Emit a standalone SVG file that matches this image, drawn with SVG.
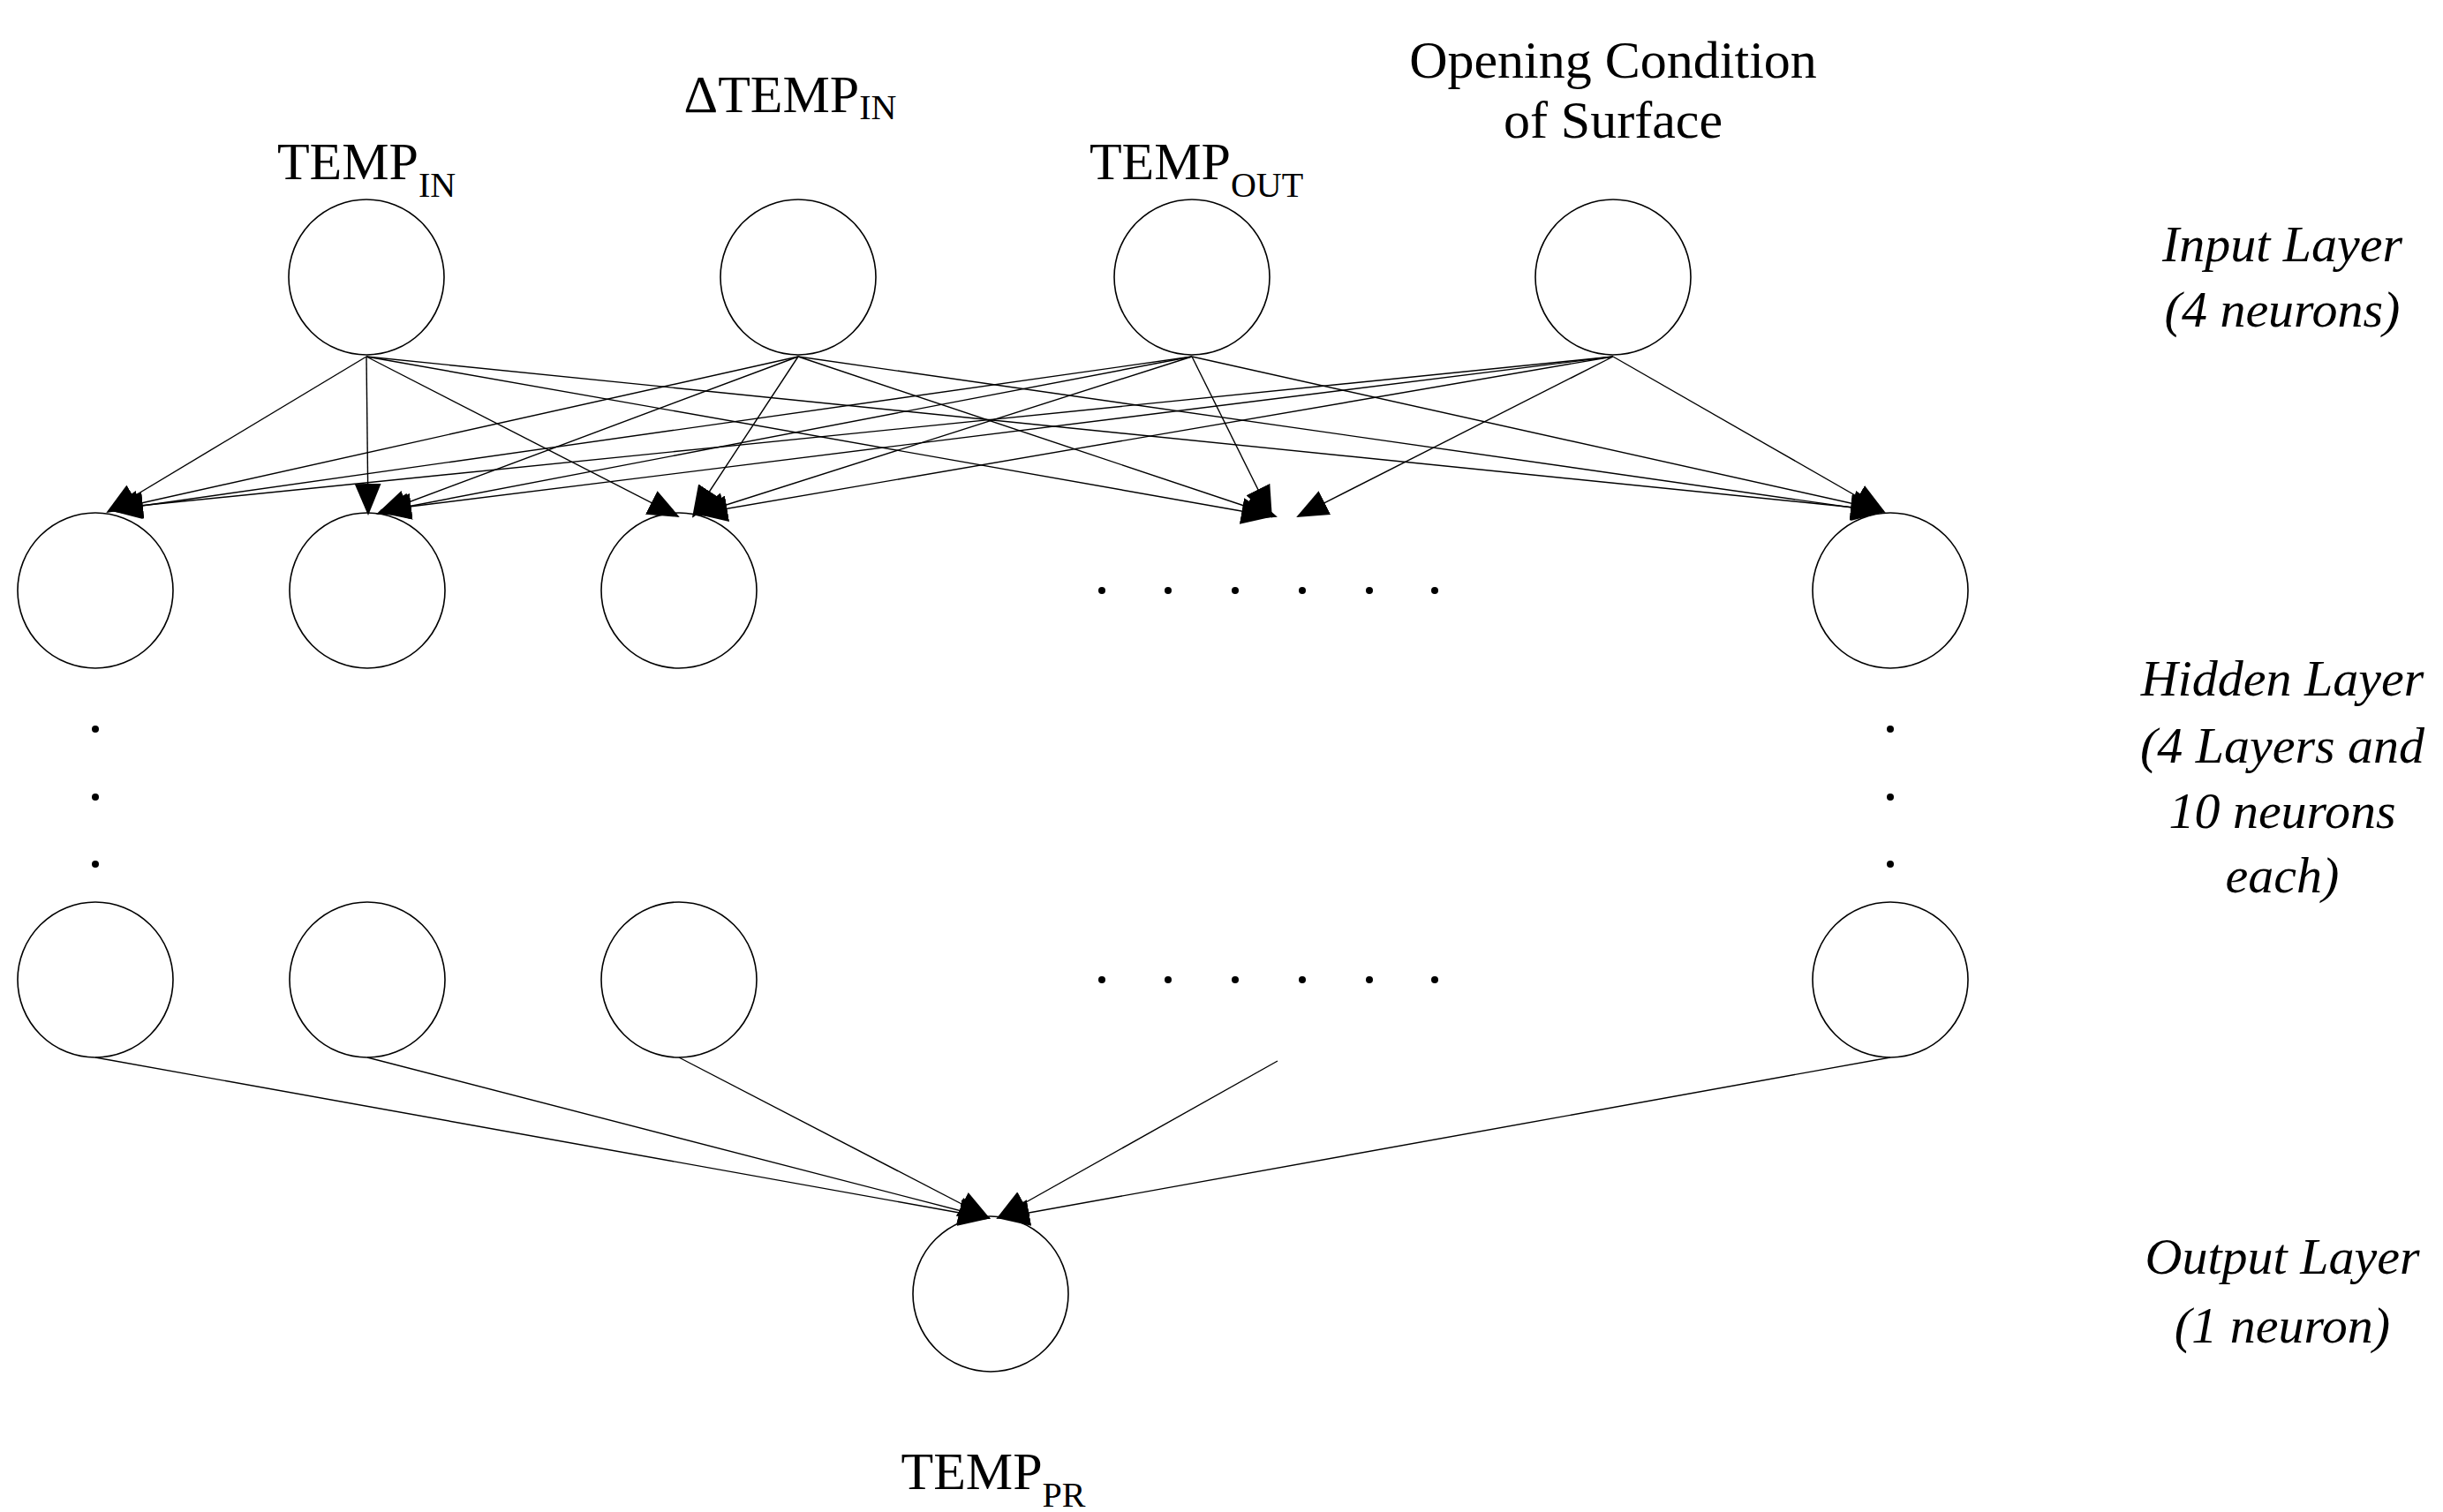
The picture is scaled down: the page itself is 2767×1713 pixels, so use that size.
<svg xmlns="http://www.w3.org/2000/svg" width="2767" height="1713" viewBox="0 0 2767 1713">
<style>
.n{fill:none;stroke:#000;stroke-width:1.6}
.e{stroke:#000;stroke-width:1.4;fill:none;marker-end:url(#ah)}
.t{font-family:"Liberation Serif",serif;font-size:60px;fill:#000;text-anchor:middle}
.s{font-size:40px}
.i{font-family:"Liberation Serif",serif;font-style:italic;font-size:58px;fill:#000;text-anchor:middle}
.d{fill:#000}
</style>
<defs>
<marker id="ah" markerUnits="userSpaceOnUse" markerWidth="36" markerHeight="30" refX="34" refY="15" orient="auto">
<path d="M0,0 L36,15 L0,30 Z" fill="#000"/>
</marker>
</defs>
<rect width="2767" height="1713" fill="#fff"/>
<g id="labels">
<text class="t" x="415" y="203">TEMP<tspan class="s" dy="20">IN</tspan></text>
<text class="t" x="895" y="127">ΔTEMP<tspan class="s" dy="8">IN</tspan></text>
<text class="t" x="1355" y="203">TEMP<tspan class="s" dy="20">OUT</tspan></text>
<text class="t" x="1827" y="88">Opening Condition</text>
<text class="t" x="1827" y="156">of Surface</text>
<text class="t" x="1125" y="1687">TEMP<tspan class="s" dy="20">PR</tspan></text>
<text class="i" x="2585" y="296">Input Layer</text>
<text class="i" x="2585" y="370">(4 neurons)</text>
<text class="i" x="2585" y="788">Hidden Layer</text>
<text class="i" x="2585" y="864">(4 Layers and</text>
<text class="i" x="2585" y="938">10 neurons</text>
<text class="i" x="2585" y="1011">each)</text>
<text class="i" x="2585" y="1443">Output Layer</text>
<text class="i" x="2585" y="1521">(1 neuron)</text>
</g>
<g id="in1"><circle class="n" cx="415" cy="314" r="88"/></g>
<g id="in2"><circle class="n" cx="904" cy="314" r="88"/></g>
<g id="in3"><circle class="n" cx="1350" cy="314" r="88"/></g>
<g id="in4"><circle class="n" cx="1827" cy="314" r="88"/></g>
<g id="h1a"><circle class="n" cx="108" cy="669" r="88"/></g>
<g id="h1b"><circle class="n" cx="416" cy="669" r="88"/></g>
<g id="h1c"><circle class="n" cx="769" cy="669" r="88"/></g>
<g id="h1d"><circle class="n" cx="2141" cy="669" r="88"/></g>
<g id="h4a"><circle class="n" cx="108" cy="1110" r="88"/></g>
<g id="h4b"><circle class="n" cx="416" cy="1110" r="88"/></g>
<g id="h4c"><circle class="n" cx="769" cy="1110" r="88"/></g>
<g id="h4d"><circle class="n" cx="2141" cy="1110" r="88"/></g>
<g id="out"><circle class="n" cx="1122" cy="1466" r="88"/></g>
<g id="dots">
<circle class="d" cx="108" cy="826" r="4"/><circle class="d" cx="108" cy="903" r="4"/><circle class="d" cx="108" cy="979" r="4"/>
<circle class="d" cx="2141" cy="826" r="4"/><circle class="d" cx="2141" cy="903" r="4"/><circle class="d" cx="2141" cy="979" r="4"/>
<circle class="d" cx="1248" cy="669" r="4"/><circle class="d" cx="1323" cy="669" r="4"/><circle class="d" cx="1399" cy="669" r="4"/><circle class="d" cx="1475" cy="669" r="4"/><circle class="d" cx="1551" cy="669" r="4"/><circle class="d" cx="1625" cy="669" r="4"/>
<circle class="d" cx="1248" cy="1110" r="4"/><circle class="d" cx="1323" cy="1110" r="4"/><circle class="d" cx="1399" cy="1110" r="4"/><circle class="d" cx="1475" cy="1110" r="4"/><circle class="d" cx="1551" cy="1110" r="4"/><circle class="d" cx="1625" cy="1110" r="4"/>
</g>
<g id="connectors">
<path class="e" d="M415,404 L122,580"/><path class="e" d="M415,404 L417,582"/><path class="e" d="M415,404 L768,585"/><path class="e" d="M415,404 L1440,585"/><path class="e" d="M415,404 L2130,578"/>
<path class="e" d="M904,404 L124,578"/><path class="e" d="M904,404 L428,582"/><path class="e" d="M904,404 L785,585"/><path class="e" d="M904,404 L1445,585"/><path class="e" d="M904,404 L2132,580"/>
<path class="e" d="M1350,404 L126,578"/><path class="e" d="M1350,404 L430,580"/><path class="e" d="M1350,404 L788,583"/><path class="e" d="M1350,404 L1440,585"/><path class="e" d="M1350,404 L2132,578"/>
<path class="e" d="M1827,404 L128,576"/><path class="e" d="M1827,404 L432,578"/><path class="e" d="M1827,404 L790,582"/><path class="e" d="M1827,404 L1470,585"/><path class="e" d="M1827,404 L2134,580"/>
<path class="e" d="M108,1198 L1120,1380"/><path class="e" d="M416,1198 L1120,1380"/><path class="e" d="M769,1198 L1120,1380"/><path class="e" d="M1447,1202 L1130,1380"/><path class="e" d="M2141,1198 L1132,1380"/>
</g>
</svg>
